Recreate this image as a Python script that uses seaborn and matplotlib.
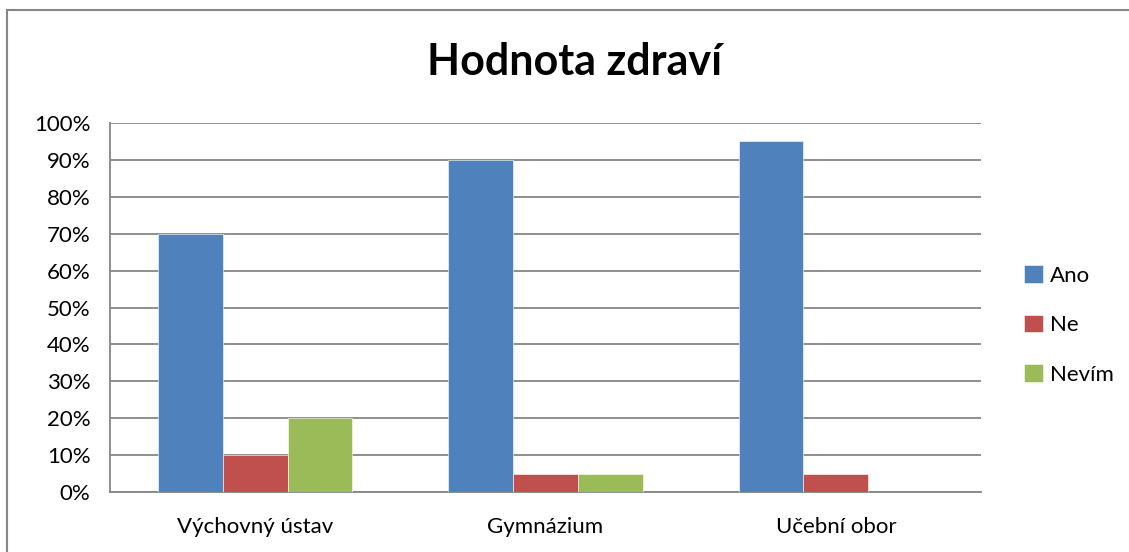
import pandas as pd
import seaborn as sns
import matplotlib.pyplot as plt
from matplotlib.patches import Rectangle
from matplotlib.ticker import PercentFormatter

# data
categories = ['Výchovný ústav', 'Gymnázium', 'Učební obor']
answers = ['Ano', 'Ne', 'Nevím']
ano = [70, 90, 95]
ne = [10, 5, 5]
nevim = [20, 5, 0]
colors = ['#4F81BD', '#C0504D', '#9BBB59']

rows = []
for ans, vals in zip(answers, [ano, ne, nevim]):
    for cat, v in zip(categories, vals):
        rows.append({'Obor': cat, 'Odpověď': ans, 'Podíl': v})
df = pd.DataFrame(rows)

sns.set_style('white', {'text.color': 'black', 'xtick.color': 'black',
                        'ytick.color': 'black'})
plt.rcParams['font.family'] = ['Lato', 'DejaVu Sans']

fig = plt.figure(figsize=(11.29, 5.52), dpi=100)
ax = fig.add_axes([110 / 1129, 1 - 492 / 552, 871 / 1129, 369 / 552])

sns.barplot(data=df, x='Obor', y='Podíl', hue='Odpověď', palette=colors,
            saturation=1, width=0.67, edgecolor='white', linewidth=0.4,
            ax=ax, zorder=3)

ax.set_ylim(0, 100)
ax.set_xlim(-0.5, 2.5)
ax.set_yticks(range(0, 101, 10))
ax.yaxis.set_major_formatter(PercentFormatter(decimals=0))
ax.grid(axis='y', color='#868686', linewidth=1.3, zorder=0)
ax.set_axisbelow(True)
for side in ['top', 'right']:
    ax.spines[side].set_visible(False)
for side in ['left', 'bottom']:
    ax.spines[side].set_color('#868686')
    ax.spines[side].set_linewidth(1.3)
ax.tick_params(axis='y', labelsize=16, pad=14, length=0, labelcolor='black')
ax.tick_params(axis='x', labelsize=16, pad=18, length=0, labelcolor='black')
ax.set_xlabel('')
ax.set_ylabel('')

fig.text(575 / 1129, 1 - 62 / 552, 'Hodnota zdraví', ha='center', va='center',
         fontsize=31, fontweight='bold', color='black')

handles, labels = ax.get_legend_handles_labels()
leg = fig.legend(handles, labels, loc='center left',
                 bbox_to_anchor=(1004 / 1129, 1 - 325 / 552), frameon=False,
                 fontsize=16, handlelength=0.85, handleheight=0.85,
                 handletextpad=0.3, labelspacing=1.3)
for t in leg.get_texts():
    t.set_color('black')
ax.get_legend().remove()

# outer chart frame
fig.patches.append(Rectangle((7 / 1129, -0.1), 1.2, 1 - 10 / 552 + 0.1,
                             transform=fig.transFigure, fill=False,
                             edgecolor='#868686', linewidth=1.5))

fig.savefig('out.png', dpi=100)
